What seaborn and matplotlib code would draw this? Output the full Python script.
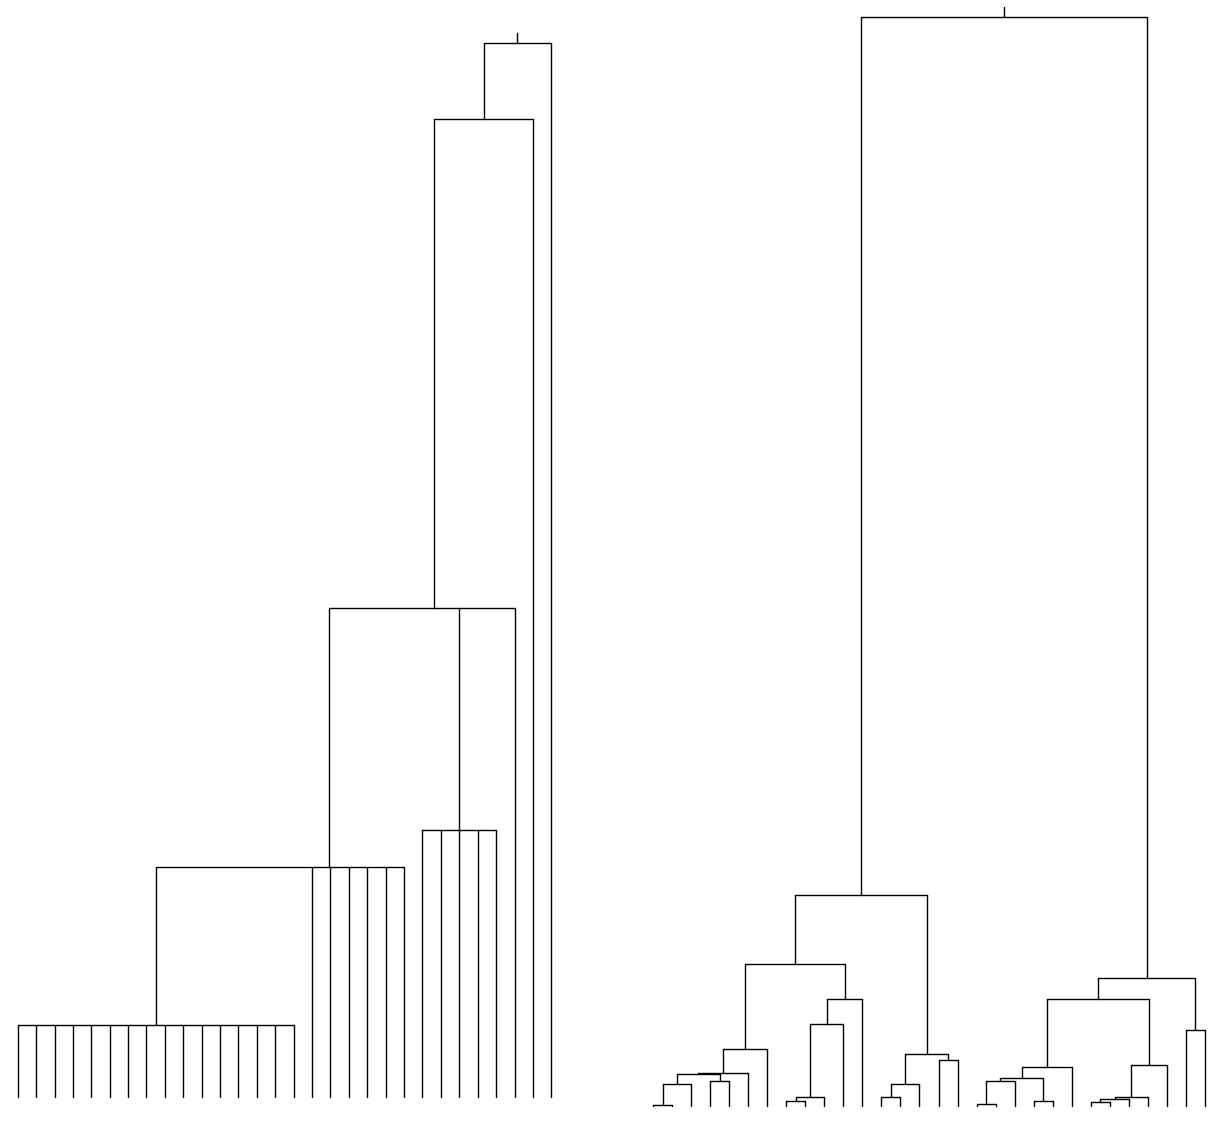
import numpy as np
import pandas as pd
import matplotlib
matplotlib.use("Agg")
import matplotlib.pyplot as plt
import seaborn as sns

# ==== Datos: 30 hojas por árbol, nodos numerados a partir de 30 ====
N_LEAVES = 30

# árbol izquierdo (nodos con varios hijos)
left_children = [
    list(range(0, 16)),
    [30] + list(range(16, 22)),
    list(range(22, 27)),
    [31, 32, 27],
    [33, 28],
    [34, 29],
]
left_heights = [0.72, 2.30, 2.67, 4.89, 9.78, 10.54]

# árbol derecho (binario)
right_children = [
    [0, 1], [30, 2], [3, 4], [31, 32], [33, 5], [34, 6],
    [7, 8], [36, 9], [37, 10], [38, 11], [35, 39],
    [12, 13], [41, 14], [15, 16], [42, 43], [40, 44],
    [17, 18], [46, 19], [20, 21], [47, 48], [49, 22],
    [23, 24], [51, 25], [52, 26], [53, 27], [50, 54],
    [28, 29], [55, 56], [45, 57],
]
right_heights = [
    0.01, 0.22, 0.25, 0.32, 0.33, 0.57,
    0.05, 0.09, 0.82, 1.07, 1.42,
    0.09, 0.22, 0.46, 0.52, 2.11,
    0.02, 0.25, 0.05, 0.28, 0.39,
    0.04, 0.07, 0.09, 0.41, 1.07,
    0.76, 1.28, 10.89,
]

STUB = 0.10


def _segments(children, heights, n_leaves=N_LEAVES):
    """Devuelve un DataFrame con los segmentos del dendrograma."""
    xs = {i: float(i) for i in range(n_leaves)}
    hs = {i: 0.0 for i in range(n_leaves)}
    rows = []
    seg = 0
    for k, (ch, h) in enumerate(zip(children, heights)):
        node = n_leaves + k
        cx = [xs[c] for c in ch]
        for c in ch:
            rows += [(seg, xs[c], hs[c]), (seg, xs[c], h)]
            seg += 1
        rows += [(seg, min(cx), h), (seg, max(cx), h)]
        seg += 1
        xs[node] = float(np.mean(cx))
        hs[node] = h
    root = n_leaves + len(children) - 1
    rows += [(seg, xs[root], hs[root]), (seg, xs[root], hs[root] + STUB)]
    return pd.DataFrame(rows, columns=["seg", "x", "y"])


sns.set_style("white")
W, H = 1229, 1123
fig = plt.figure(figsize=(W / 100, H / 100), dpi=100)

# posiciones en píxeles: (borde izq, ancho, y de altura 0, y de la punta)
panels = [
    (left_children, left_heights, 8.5, 552, 1097, 33),
    (right_children, right_heights, 643.5, 571, 1106, 7),
]

for children, heights, x0, w, ybase, ytop in panels:
    ax = fig.add_axes([x0 / W, (H - ybase) / H, w / W, (ybase - ytop) / H])
    df = _segments(children, heights)
    sns.lineplot(data=df, x="x", y="y", units="seg", estimator=None,
                 sort=False, color="black", linewidth=1.0, ax=ax)
    for ln in ax.lines:
        ln.set_clip_on(False)
    ax.set_xlim(-0.5, N_LEAVES - 0.5)
    ax.set_ylim(0, heights[-1] + STUB)
    ax.axis("off")

plt.savefig("out.png", dpi=100)
plt.close()
